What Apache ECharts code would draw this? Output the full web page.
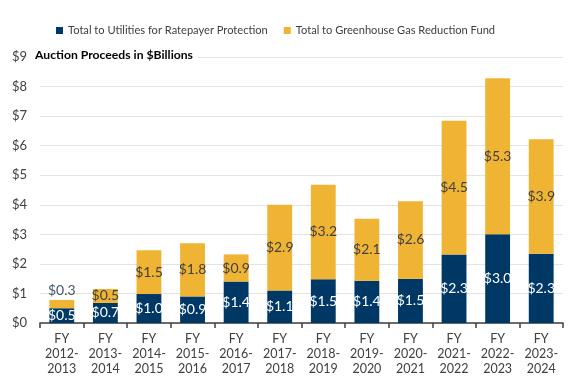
<!DOCTYPE html>
<html><head><meta charset="utf-8">
<script src="https://cdn.jsdelivr.net/npm/echarts@6/dist/echarts.min.js"></script>
<style>html,body{margin:0;padding:0;background:#fff}#c{width:576px;height:384px}</style>
</head><body><div id="c"></div>
<script>
const categories = ['FY\n2012-\n2013','FY\n2013-\n2014','FY\n2014-\n2015','FY\n2015-\n2016','FY\n2016-\n2017','FY\n2017-\n2018','FY\n2018-\n2019','FY\n2019-\n2020','FY\n2020-\n2021','FY\n2021-\n2022','FY\n2022-\n2023','FY\n2023-\n2024'];
const utilities = [0.5, 0.68, 0.98, 0.9, 1.4, 1.1, 1.48, 1.43, 1.5, 2.32, 3.0, 2.34];
const ggrf = [0.28, 0.47, 1.48, 1.8, 0.92, 2.9, 3.2, 2.1, 2.62, 4.52, 5.28, 3.88];
const seriesNames = ['Total to Utilities for Ratepayer Protection', 'Total to Greenhouse Gas Reduction Fund'];
const FONT = 'Lato';
const chart = echarts.init(document.getElementById('c'));
const fmt = p => '$' + p.value.toFixed(1);
chart.setOption({
  animation: false,
  textStyle: {fontFamily: FONT},
  legend: {
    top: 20, left: 51,
    itemWidth: 7, itemHeight: 7, itemGap: 16,
    icon: 'rect',
    textStyle: {fontFamily: FONT, fontSize: 11.1, color: '#404040'},
    data: seriesNames
  },
  title: {
    text: 'Auction Proceeds in $Billions',
    left: 32, top: 48,
    padding: [1, 5, 1, 3],
    backgroundColor: '#fff',
    textStyle: {fontFamily: FONT, fontSize: 12.2, fontWeight: 'bold', color: '#000'}
  },
  grid: {left: 40, right: 13, top: 57, bottom: 61},
  xAxis: {
    type: 'category', data: categories,
    axisLine: {lineStyle: {color: '#404040', width: 1.5}},
    axisTick: {show: true, length: 5, lineStyle: {color: '#404040', width: 1.5}},
    axisLabel: {fontFamily: FONT, fontSize: 12.5, color: '#404040', lineHeight: 15, margin: 8, interval: 0}
  },
  yAxis: {
    type: 'value', min: 0, max: 9, interval: 1,
    axisLine: {show: false}, axisTick: {show: false},
    splitLine: {lineStyle: {color: '#E3E3E3', width: 1}},
    axisLabel: {fontFamily: FONT, fontSize: 13, color: '#404040', formatter: v => '$' + v, margin: 13}
  },
  series: [
    {
      name: seriesNames[0], type: 'bar', stack: 's', data: utilities,
      barWidth: '57%',
      itemStyle: {color: '#003865'},
      label: {show: true, position: 'inside', formatter: fmt, color: '#fff', fontFamily: FONT, fontSize: 14}
    },
    {
      name: seriesNames[1], type: 'bar', stack: 's',
      data: ggrf.map((v, i) => i === 0 ? {value: v, label: {position: 'top', color: '#44546A', distance: 2}} : v),
      itemStyle: {color: '#F0B435'},
      label: {show: true, position: 'inside', formatter: fmt, color: '#404040', fontFamily: FONT, fontSize: 14}
    }
  ]
});
</script></body></html>
